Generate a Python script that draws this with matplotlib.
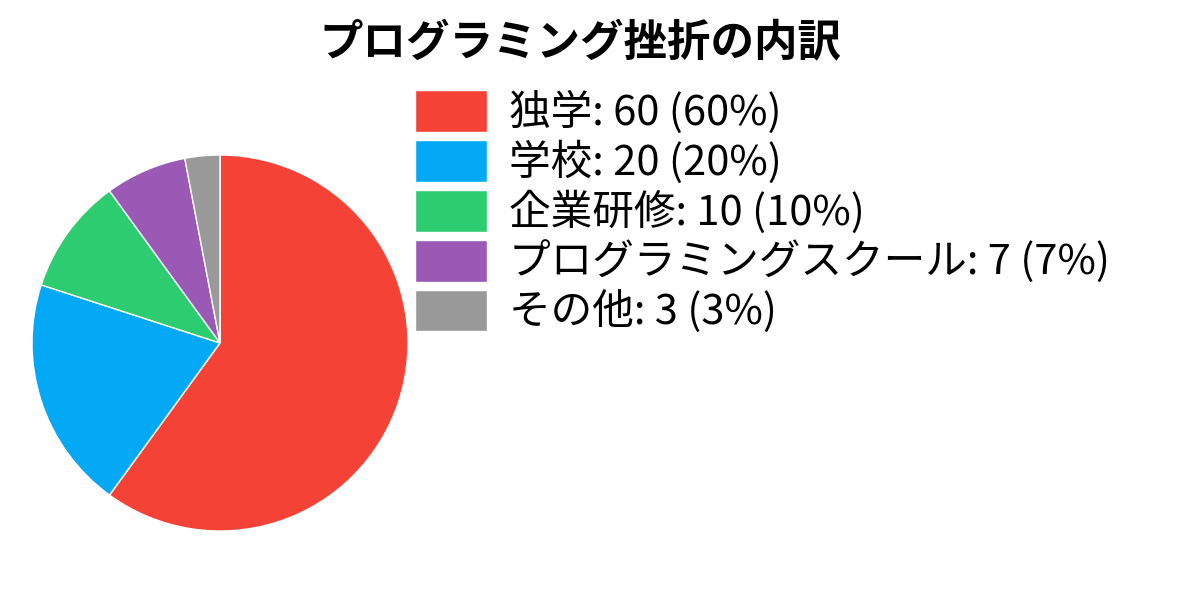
import matplotlib
matplotlib.use("Agg")
import matplotlib.pyplot as plt

plt.rcParams['font.family'] = ['Noto Sans CJK JP', 'DejaVu Sans']

# data
labels = ["独学", "学校", "企業研修", "プログラミングスクール", "その他"]
values = [60, 20, 10, 7, 3]
colors = ["#f44336", "#03a9f4", "#2ecc71", "#9b59b6", "#999999"]
title = "プログラミング挫折の内訳"

total = sum(values)
legend_labels = ["{}: {} ({:.0f}%)".format(l, v, v / total * 100) for l, v in zip(labels, values)]

fig = plt.figure(figsize=(12, 6), dpi=100)

# pie axis: centre ~(220, 343) px, radius ~188 px
ax = fig.add_axes([32 / 1200, (600 - 531) / 600, 376 / 1200, 376 / 600])
wedges, _ = ax.pie(values, colors=colors, startangle=90, counterclock=False,
                   wedgeprops=dict(edgecolor="white", linewidth=1))
ax.set_xlim(-1, 1)
ax.set_ylim(-1, 1)
ax.set_aspect("equal")

fig.text(580 / 1200, 1 - 42 / 600, title, ha="center", va="center",
         fontsize=31.3, fontweight="bold")

fig.legend(wedges, legend_labels, loc="upper left",
           bbox_to_anchor=(415 / 1200, 1 - 90 / 600), frameon=False,
           fontsize=30, borderpad=0, borderaxespad=0,
           handlelength=1.73, handleheight=1.17, handletextpad=0.53,
           labelspacing=0.14)

fig.savefig("out.png", dpi=100)
